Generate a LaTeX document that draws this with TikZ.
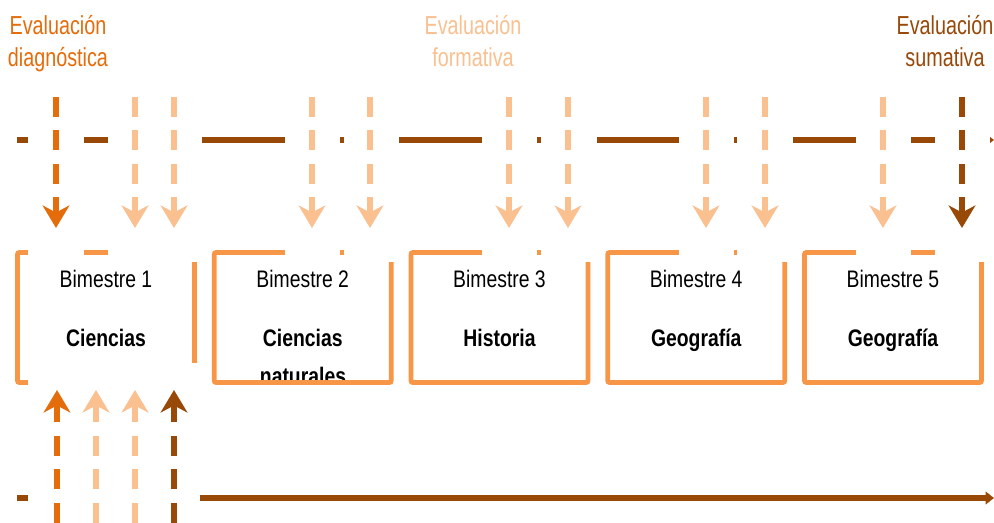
\documentclass[tikz,border=0pt]{standalone}
\usepackage{fontspec}
\setmainfont{Liberation Sans}
\usetikzlibrary{arrows.meta}
\definecolor{diag}{HTML}{E46C0A}
\definecolor{form}{HTML}{FAC090}
\definecolor{suma}{HTML}{984807}
\definecolor{cajanaranja}{HTML}{F79646}

\begin{document}
\begin{tikzpicture}[x=0.025cm, y=-0.025cm,
    evaltext/.style={font=\fontsize{18.5}{20}\selectfont, xscale=0.76, anchor=base, inner sep=0pt},
    bim/.style={font=\fontsize{17}{20}\selectfont, xscale=0.81, anchor=base, inner sep=0pt},
    subj/.style={bim, font=\fontsize{17}{20}\selectfont\bfseries},
    bimbox/.style={draw=cajanaranja, line width=3.5pt, rounded corners=1.5pt,
      minimum width=4.425cm, minimum height=3.25cm, inner sep=0pt},
    eje/.style={draw=suma, line width=4pt, -{Triangle[length=6pt,width=9pt]}},
    flecha/.style={line width=4pt, dash pattern=on 14.2pt off 9.6pt,
      -{Stealth[length=16pt,width=19pt,inset=5pt]}}]
  \useasboundingbox (0,0) rectangle (994,523);

  % ejes del tiempo
  \coordinate (ejeA0) at (17,140);
  \coordinate (ejeA1) at (994,140);
  \coordinate (ejeB0) at (17,498);
  \coordinate (ejeB1) at (994,498);
  \draw[eje] (ejeA0) -- (ejeA1);
  \draw[eje] (ejeB0) -- (ejeB1);

  % tipos de evaluacion
  \node[evaltext, text=diag] (diag1) at (58,35) {Evaluación};
  \node[evaltext, text=diag] (diag2) at (58,67) {diagnóstica};
  \node[evaltext, text=form] (form1) at (473,35) {Evaluación};
  \node[evaltext, text=form] (form2) at (473,67) {formativa};
  \node[evaltext, text=suma] (suma1) at (945,35) {Evaluación};
  \node[evaltext, text=suma] (suma2) at (945,67) {sumativa};

  % bimestres
  \node[subj] (mat2b) at (303,385) {naturales};
  \foreach \i/\materia in {1/Ciencias,2/Ciencias,3/Historia,4/Geografía,5/Geografía}{
    \pgfmathsetmacro{\xc}{106+196.75*(\i-1)}
    \node[bim] (bim\i) at (\xc,288) {Bimestre \i};
    \node[subj] (mat\i) at (\xc,347) {\materia};
    \node[bimbox] (caja\i) at (\xc,317.5) {};
  }

  % fondos blancos de las flechas
  \foreach \a/\b in {28/84,108/202,285/340,344/399,482/537,541/597,679/734,737/793,856/911,935/990}
    \fill[white] (\a,88) rectangle (\b,262);
  \fill[white] (28,363) rectangle (200,523);

  % flechas hacia abajo
  \foreach \x/\c in {56/diag,135/form,174/form,312/form,370/form,509/form,568/form,706/form,765/form,883/form,962/suma}{
    \coordinate (sup\x) at (\x,97);
    \coordinate (inf\x) at (\x,228);
    \draw[flecha, color=\c] (sup\x) -- (inf\x);
  }

  % flechas hacia arriba
  \foreach \x/\c in {57/diag,96/form,135/form,174/suma}{
    \coordinate (ab\x) at (\x,556);
    \coordinate (ar\x) at (\x,390);
    \draw[flecha, color=\c] (ab\x) -- (ar\x);
  }
\end{tikzpicture}
\end{document}
